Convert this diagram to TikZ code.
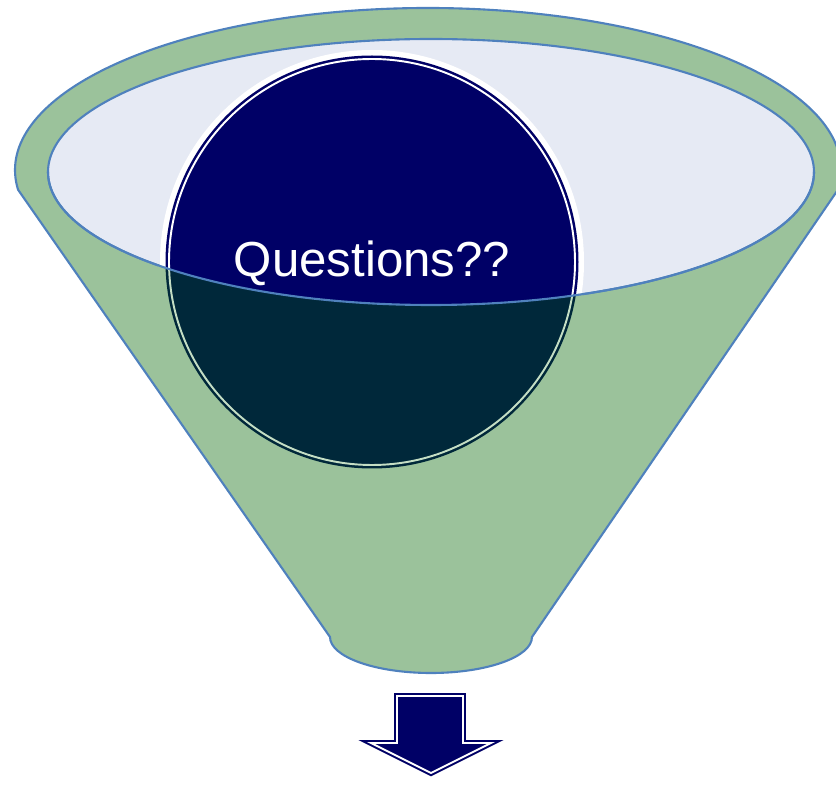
\documentclass[tikz,border=0pt]{standalone}
\usepackage{fontspec}
\setmainfont{Liberation Sans}
\usepackage{xcolor}
\usepackage{tikz}
\usetikzlibrary{positioning}

\definecolor{funnelgreen}{RGB}{155,194,155}
\definecolor{rimblue}{RGB}{79,129,189}
\definecolor{mouthgrey}{RGB}{230,234,244}
\definecolor{deepnavy}{RGB}{0,0,102}
\definecolor{darkteal}{RGB}{0,40,58}
\definecolor{palegreen}{RGB}{196,222,196}

\begin{document}
\begin{tikzpicture}[
    x=0.02cm, y=0.02cm,
    rim/.style={draw=rimblue, line width=1.2pt},
    label/.style={text=white, font=\fontsize{28}{33}\selectfont, inner sep=0pt}
]
\useasboundingbox (0,0) rectangle (836,785);

% Funnel body
\path[rim, fill=funnelgreen]
    (428,615) ++(-7:413 and 162) arc[start angle=-7, end angle=187, x radius=413, y radius=162]
    -- (330,148) arc[start angle=180, end angle=360, x radius=101, y radius=36]
    -- cycle;

% Mouth of the funnel
\path[rim, fill=mouthgrey] (431,613) ellipse[x radius=383, y radius=133];

% Ball
\fill[white] (372,523) circle[radius=212];
\fill[deepnavy] (372,523) circle[radius=206.5];
\draw[white, line width=1.1pt] (372,523) circle[radius=203];

% Part of the ball inside the funnel
\begin{scope}
\clip (48,613) arc[start angle=180, end angle=360, x radius=383, y radius=133]
    -- (900,613) -- (900,-10) -- (-10,-10) -- (-10,613) -- cycle;
\fill[funnelgreen] (372,523) circle[radius=214];
\fill[darkteal] (372,523) circle[radius=206.5];
\draw[palegreen, line width=1.1pt] (372,523) circle[radius=203];
\end{scope}
\draw[rim] (48,613) arc[start angle=180, end angle=360, x radius=383, y radius=133];

\node[label] (ques) at (372,522) {Questions??};

% Down arrow
\path[draw=deepnavy, fill=deepnavy, line width=3.4pt, line join=miter]
    (397,89) -- (463,89) -- (463,42) -- (491,42) -- (431,12) -- (371,42) -- (397,42) -- cycle;
\draw[white, line width=1.1pt, line join=miter]
    (397,89) -- (463,89) -- (463,42) -- (491,42) -- (431,12) -- (371,42) -- (397,42) -- cycle;

\end{tikzpicture}
\end{document}
